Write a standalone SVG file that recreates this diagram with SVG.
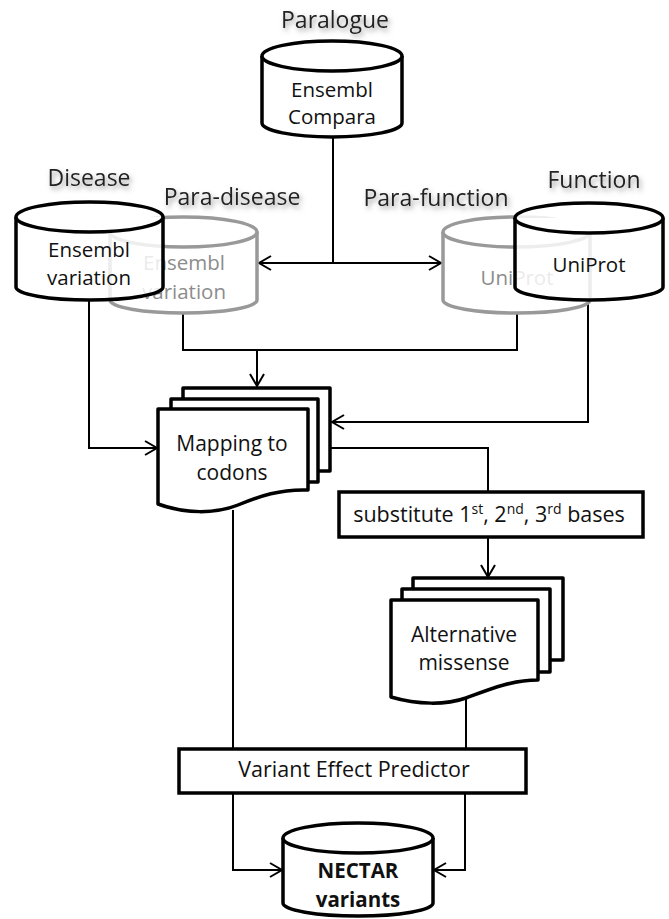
<svg xmlns="http://www.w3.org/2000/svg" width="669" height="919" viewBox="0 0 669 919">
<defs>
<style>
.lbl{font-family:"Open Sans","Liberation Sans",sans-serif;font-size:23px;fill:#222;text-anchor:middle;}
.t{font-family:"Open Sans","Liberation Sans",sans-serif;font-size:20.5px;fill:#111;text-anchor:middle;}
.tg{font-family:"Open Sans","Liberation Sans",sans-serif;font-size:20.5px;fill:#8c8c8c;text-anchor:middle;}
.cyl{fill:#fff;stroke:#000;stroke-width:3.5;}
.cylg{fill:#fff;stroke:#999;stroke-width:3.5;}
.doc{fill:#fff;stroke:#000;stroke-width:3.5;stroke-linejoin:round;}
.box{fill:#fff;stroke:#000;stroke-width:3.5;}
.con{fill:none;stroke:#000;stroke-width:2;}
</style>
<marker id="arr" markerUnits="userSpaceOnUse" markerWidth="16" markerHeight="18" refX="13" refY="8" orient="auto">
<path d="M1,1 L13,8 L1,15" fill="none" stroke="#000" stroke-width="2"/>
</marker>
<filter id="sh" x="-20%" y="-40%" width="140%" height="180%">
<feGaussianBlur in="SourceAlpha" stdDeviation="2.5" result="b"/>
<feOffset in="b" dx="2" dy="3" result="o"/>
<feFlood flood-color="#666" flood-opacity="0.65"/>
<feComposite in2="o" operator="in" result="s"/>
<feMerge><feMergeNode in="s"/><feMergeNode in="SourceGraphic"/></feMerge>
</filter>
</defs>

<g id="connectors">
<path class="con" d="M333,138 V263"/>
<path class="con" d="M333,263 H259" marker-end="url(#arr)"/>
<path class="con" d="M333,263 H441" marker-end="url(#arr)"/>
<path class="con" d="M89,300 V448 H157" marker-end="url(#arr)"/>
<path class="con" d="M183,313 V350 H517 V313"/>
<path class="con" d="M257,350 V386" marker-end="url(#arr)"/>
<path class="con" d="M588,300 V422 H332" marker-end="url(#arr)"/>
<path class="con" d="M330,448 H488 V492"/>
<path class="con" d="M488,537 V577" marker-end="url(#arr)"/>
<path class="con" d="M233,510 V749"/>
<path class="con" d="M466,699 V749"/>
<path class="con" d="M233,793 V870 H282" marker-end="url(#arr)"/>
<path class="con" d="M465,793 V870 H434" marker-end="url(#arr)"/>
</g>

<g id="paralogue">
<text class="lbl" x="335" y="28" filter="url(#sh)">Paralogue</text>
<path class="cyl" d="M262,56 A70,15 0 0 1 402,56 L402,123 A70,14 0 0 1 262,123 Z"/>
<path class="cyl" fill="none" d="M262,56 A70,15 0 0 0 402,56"/>
<text class="t" x="332" y="97">Ensembl</text>
<text class="t" x="332" y="124">Compara</text>
</g>

<g id="para-disease">
<text class="lbl" x="232" y="205" filter="url(#sh)">Para-disease</text>
<path class="cylg" d="M110,232 A73.5,15 0 0 1 257,232 L257,300 A73.5,13 0 0 1 110,300 Z"/>
<path class="cylg" fill="none" d="M110,232 A73.5,15 0 0 0 257,232"/>
<text class="tg" x="184" y="270">Ensembl</text>
<text class="tg" x="184" y="299">variation</text>
</g>

<g id="disease">
<text class="lbl" x="89" y="186" filter="url(#sh)">Disease</text>
<path class="cyl" fill-opacity="0.82" d="M16,217 A73.5,15 0 0 1 163,217 L163,287 A73.5,13 0 0 1 16,287 Z"/>
<path class="cyl" fill="none" d="M16,217 A73.5,15 0 0 0 163,217"/>
<text class="t" x="89" y="257">Ensembl</text>
<text class="t" x="89" y="285">variation</text>
</g>

<g id="para-function">
<text class="lbl" x="436" y="206" filter="url(#sh)">Para-function</text>
<path class="cylg" d="M443,232 A73.5,15 0 0 1 590,232 L590,300 A73.5,13 0 0 1 443,300 Z"/>
<path class="cylg" fill="none" d="M443,232 A73.5,15 0 0 0 590,232"/>
<text class="tg" x="517" y="285">UniProt</text>
</g>

<g id="function">
<text class="lbl" x="594" y="188" filter="url(#sh)">Function</text>
<path class="cyl" fill-opacity="0.82" d="M515,218 A74,15 0 0 1 663,218 L663,287 A74,13 0 0 1 515,287 Z"/>
<path class="cyl" fill="none" d="M515,218 A74,15 0 0 0 663,218"/>
<text class="t" x="589" y="272">UniProt</text>
</g>

<g id="mapping">
<rect class="doc" x="183" y="388" width="147" height="83"/>
<rect class="doc" x="171" y="399" width="147" height="83"/>
<path class="doc" d="M158,409 H308 V490 C280,489 260,496 238,505 C215,514 185,514 158,504 Z"/>
<text class="t" x="232" y="451" style="font-size:21px">Mapping to</text>
<text class="t" x="232" y="480" style="font-size:21px">codons</text>
</g>

<g id="substitute">
<rect class="box" x="339" y="492" width="304" height="45"/>
<text class="t" x="489" y="522" style="font-size:21.5px">substitute 1<tspan font-size="14" dy="-8">st</tspan><tspan dy="8">, 2</tspan><tspan font-size="14" dy="-8">nd</tspan><tspan dy="8">, 3</tspan><tspan font-size="14" dy="-8">rd</tspan><tspan dy="8"> bases</tspan></text>
</g>

<g id="alternative">
<rect class="doc" x="413" y="578" width="150" height="82"/>
<rect class="doc" x="402" y="589" width="148" height="83"/>
<path class="doc" d="M391,600 H538 V680 C512,680 490,689 466,698 C446,705 418,705 391,697 Z"/>
<text class="t" x="464" y="642" style="font-size:21px">Alternative</text>
<text class="t" x="464" y="670" style="font-size:21px">missense</text>
</g>

<g id="vep">
<rect class="box" x="179" y="749" width="347" height="44"/>
<text class="t" x="354" y="777" style="font-size:21.5px">Variant Effect Predictor</text>
</g>

<g id="nectar">
<path class="cyl" d="M283,838 A75,15 0 0 1 433,838 L433,903 A75,13 0 0 1 283,903 Z"/>
<path class="cyl" fill="none" d="M283,838 A75,15 0 0 0 433,838"/>
<text class="t" x="358" y="878" style="font-weight:bold">NECTAR</text>
<text class="t" x="358" y="907" style="font-weight:bold">variants</text>
</g>
</svg>
